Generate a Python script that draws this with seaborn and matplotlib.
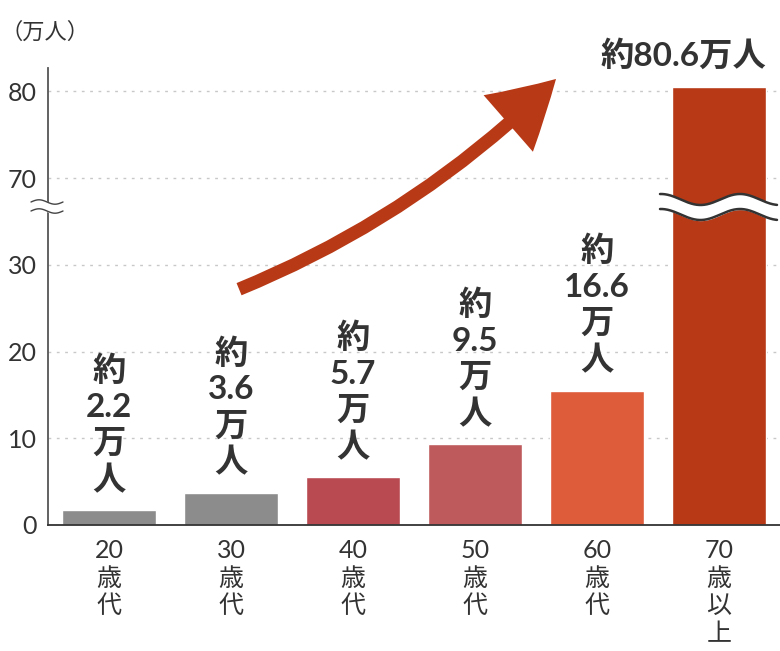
import numpy as np
import pandas as pd
import matplotlib
matplotlib.use("Agg")
import matplotlib.pyplot as plt
import seaborn as sns
from matplotlib.patches import FancyArrowPatch

# data
categories = ["20\n歳\n代", "30\n歳\n代", "40\n歳\n代", "50\n歳\n代", "60\n歳\n代", "70\n歳\n以\n上"]
bar_heights = [1.7, 3.7, 5.5, 9.3, 15.5, 80.5]
value_labels = ["約\n2.2\n万\n人", "約\n3.6\n万\n人", "約\n5.7\n万\n人",
                "約\n9.5\n万\n人", "約\n16.6\n万\n人", "約80.6万人"]
bar_colors = ["#8c8c8c", "#8c8c8c", "#b94a52", "#bf5a5c", "#de5c3a", "#b83916"]
y_ticks = [0, 10, 20, 30, 70, 80]

TEXT = "#333333"
ARROW = "#b83916"

sns.set_theme(style="white")
plt.rcParams['font.family'] = ['Lato', 'Noto Sans CJK JP', 'DejaVu Sans']


# broken axis: 30..70 squeezed into one 10-unit step
def fwd(v):
    v = np.asarray(v, dtype=float)
    return np.where(v <= 30, v, np.where(v >= 70, v - 30, 30 + (v - 30) / 4))


def inv(d):
    d = np.asarray(d, dtype=float)
    return np.where(d <= 30, d, np.where(d >= 40, d + 30, 30 + (d - 30) * 4))


fig = plt.figure(figsize=(7.8, 6.51), dpi=100)
ax = fig.add_axes([48 / 780, 126 / 651, 732 / 780, 457 / 651])

df = pd.DataFrame({"cat": categories, "val": bar_heights})
sns.barplot(data=df, x="cat", y="val", hue="cat", palette=bar_colors,
            legend=False, width=0.77, saturation=1, ax=ax, zorder=2)

ax.set_yscale('function', functions=(fwd, inv))
ax.set_ylim(0, 82.7)
ax.set_xlim(-0.5, 5.5)
ax.set_yticks(y_ticks)
ax.set_xlabel("")
ax.set_ylabel("")

ax.yaxis.grid(True, ls=(0, (2, 4)), color="#c8c8c8", lw=1)
ax.xaxis.grid(False)
ax.set_axisbelow(True)

for s in ["top", "right"]:
    ax.spines[s].set_visible(False)
ax.spines["left"].set_color("#555555")
ax.spines["left"].set_linewidth(1.3)
ax.spines["bottom"].set_color("#333333")
ax.spines["bottom"].set_linewidth(1.3)

ax.tick_params(axis="y", direction="in", length=6, width=1.2, color="#555555",
               labelsize=18, labelcolor=TEXT, pad=8)
ax.tick_params(axis="x", which="major", length=0, labelsize=18, labelcolor=TEXT, pad=10)
ax.set_xticks(np.arange(0.5, 5, 1), minor=True)
ax.tick_params(axis="x", which="minor", direction="in", length=11, width=1.2, color="#333333")
for lab in ax.get_xticklabels():
    lab.set_linespacing(1.25)

# value labels above the bars
for i, (h, txt) in enumerate(zip(bar_heights, value_labels)):
    if i == len(bar_heights) - 1:
        ax.annotate(txt, xy=(i + 0.385, h), xytext=(0, 12), textcoords="offset points",
                    ha="right", va="bottom", fontsize=24, fontweight="bold",
                    color=TEXT, annotation_clip=False)
    else:
        ax.annotate(txt, xy=(i, h), xytext=(0, 11), textcoords="offset points",
                    ha="center", va="bottom", fontsize=24, fontweight="bold",
                    color=TEXT, linespacing=1.28, annotation_clip=False)

# wavy break on the tall bar
ax_w, ax_h = 732.0, 457.0
xs_px = np.linspace(660, 777, 200)
xs = (xs_px - 48) / ax_w
top_w = (525 - 199.5) / ax_h + 5.5 * np.cos(2 * np.pi * (xs_px - 661) / 79) / ax_h
bot_w = top_w - 15 / ax_h
ax.fill_between(xs, bot_w, top_w, color="white", transform=ax.transAxes, zorder=5,
                clip_on=False)
ax.plot(xs, top_w, color="#333333", lw=1.8, transform=ax.transAxes, zorder=6, clip_on=False)
ax.plot(xs, bot_w, color="#333333", lw=1.8, transform=ax.transAxes, zorder=6, clip_on=False)

# wavy break on the y axis
xs_px = np.linspace(31, 63, 100)
xs = (xs_px - 48) / ax_w
top_y = (525 - 202) / ax_h + 2.2 * np.sin(2 * np.pi * (xs_px - 31) / 32) / ax_h
bot_y = top_y - 9 / ax_h
ax.fill_between(xs, bot_y, top_y, color="white", transform=ax.transAxes, zorder=5,
                clip_on=False)
ax.plot(xs, top_y, color="#444444", lw=1.0, transform=ax.transAxes, zorder=6, clip_on=False)
ax.plot(xs, bot_y, color="#444444", lw=1.0, transform=ax.transAxes, zorder=6, clip_on=False)

# big rising arrow
arrow = FancyArrowPatch((0.261, 0.516), (0.694, 0.976), transform=ax.transAxes,
                        connectionstyle="arc3,rad=0.1",
                        arrowstyle="simple,head_length=47,head_width=54,tail_width=9.5",
                        mutation_scale=1, shrinkA=0, shrinkB=0,
                        color=ARROW, lw=0, zorder=4, clip_on=False)
ax.add_patch(arrow)

fig.text(0.0, 1 - 32 / 651, "（万人）", fontsize=16, color=TEXT, ha="left", va="center")

fig.savefig("out.png", dpi=100)
